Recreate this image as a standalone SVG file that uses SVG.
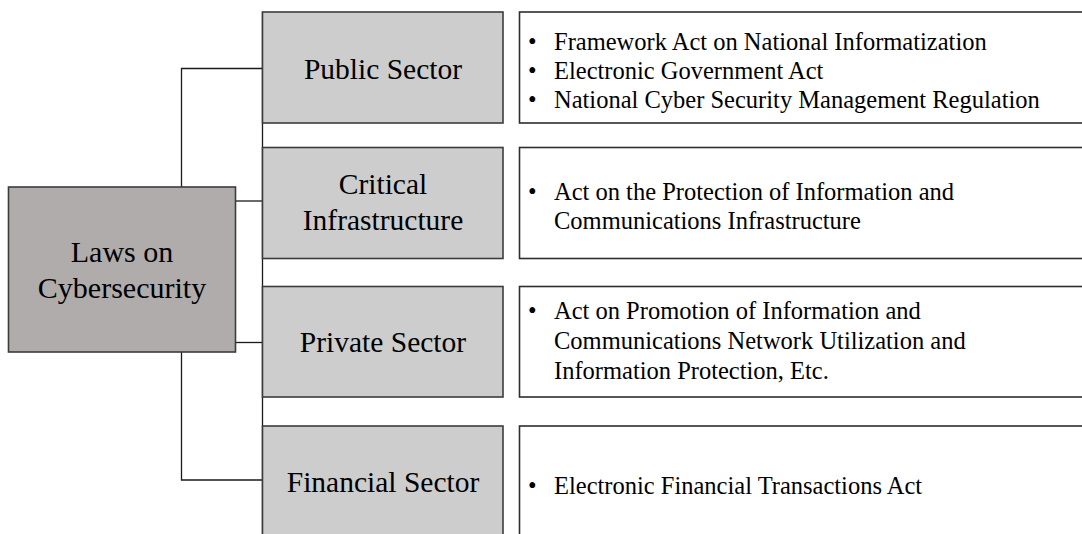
<svg xmlns="http://www.w3.org/2000/svg" width="1082" height="534" viewBox="0 0 1082 534">
<style>
.root{fill:#b0acab;stroke:#3c3c3c;stroke-width:1.6}
.sec{fill:#cdcdcd;stroke:#3c3c3c;stroke-width:1.6}
.law{fill:#ffffff;stroke:#2e2e2e;stroke-width:1.6}
.conn{fill:none;stroke:#1a1a1a;stroke-width:1.3}
text{font-family:"Liberation Serif","Times New Roman",serif;fill:#000}
.big{font-size:30px;text-anchor:middle}
.lbl{font-size:29.5px;text-anchor:middle}
.item{font-size:24.5px}
</style>
<rect width="1082" height="534" fill="#ffffff"/>
<g id="connectors">
<path class="conn" d="M181.5 187 V68.5 H262.5"/>
<path class="conn" d="M235.5 201 H262.5"/>
<path class="conn" d="M235.5 342.5 H262.5"/>
<path class="conn" d="M181.5 352 V480 H262.5"/>
<path class="conn" d="M262.5 12 V534"/>
</g>
<g id="laws">
<rect class="root" x="8.5" y="187" width="227" height="165"/>
<text class="big" x="122" y="261.5">Laws on</text>
<text class="big" x="122" y="298">Cybersecurity</text>
</g>
<g id="public-sector">
<rect class="sec" x="262.5" y="12" width="240.5" height="111"/>
<text class="lbl" x="383" y="79">Public Sector</text>
</g>
<g id="critical-infrastructure">
<rect class="sec" x="262.5" y="147.5" width="240.5" height="111"/>
<text class="lbl" x="383" y="194">Critical</text>
<text class="lbl" x="383" y="230">Infrastructure</text>
</g>
<g id="private-sector">
<rect class="sec" x="262.5" y="286.5" width="240.5" height="110.5"/>
<text class="lbl" x="383" y="352">Private Sector</text>
</g>
<g id="financial-sector">
<rect class="sec" x="262.5" y="426" width="240.5" height="120"/>
<text class="lbl" x="383" y="492">Financial Sector</text>
</g>
<g id="public-laws">
<rect class="law" x="519.5" y="12" width="580" height="111"/>
<text class="item" x="528" y="50">•</text>
<text class="item" x="554" y="50">Framework Act on National Informatization</text>
<text class="item" x="528" y="79">•</text>
<text class="item" x="554" y="79">Electronic Government Act</text>
<text class="item" x="528" y="108">•</text>
<text class="item" x="554" y="108">National Cyber Security Management Regulation</text>
</g>
<g id="critical-laws">
<rect class="law" x="519.5" y="147.5" width="580" height="111"/>
<text class="item" x="528" y="200">•</text>
<text class="item" x="554" y="200">Act on the Protection of Information and</text>
<text class="item" x="554" y="229">Communications Infrastructure</text>
</g>
<g id="private-laws">
<rect class="law" x="519.5" y="286.5" width="580" height="110.5"/>
<text class="item" x="528" y="319">•</text>
<text class="item" x="554" y="319">Act on Promotion of Information and</text>
<text class="item" x="554" y="349">Communications Network Utilization and</text>
<text class="item" x="554" y="379">Information Protection, Etc.</text>
</g>
<g id="financial-laws">
<rect class="law" x="519.5" y="426" width="580" height="120"/>
<text class="item" x="528" y="494">•</text>
<text class="item" x="554" y="494">Electronic Financial Transactions Act</text>
</g>
</svg>
